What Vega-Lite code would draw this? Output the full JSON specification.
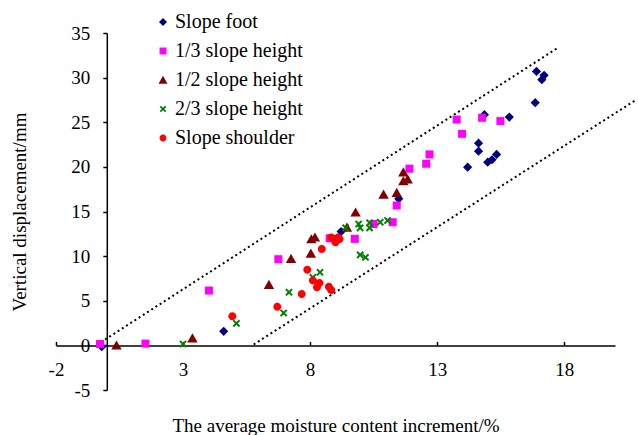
{
  "$schema": "https://vega.github.io/schema/vega-lite/v6.json",
  "autosize": "none",
  "width": 559,
  "height": 357,
  "padding": {"left": 56, "top": 33, "right": 23, "bottom": 45},
  "background": "white",
  "config": {
    "view": {"stroke": null},
    "font": "Liberation Serif",
    "axis": {"labelFont": "Liberation Serif", "titleFont": "Liberation Serif", "labelColor": "black", "titleColor": "black", "domainColor": "black", "tickColor": "black", "grid": false, "labelFontSize": 19, "titleFontSize": 19, "titleFontWeight": "normal", "domainWidth": 1.5, "tickWidth": 1.5},
    "legend": {"labelFont": "Liberation Serif", "labelFontSize": 20, "labelColor": "black"},
    "text": {"font": "Liberation Serif"}
  },
  "datasets": {
    "pts": [
      {"s": "Slope foot", "x": -0.2, "y": -0.15},
      {"s": "Slope foot", "x": 4.6, "y": 1.57},
      {"s": "Slope foot", "x": 9.22, "y": 12.75},
      {"s": "Slope foot", "x": 11.49, "y": 16.42},
      {"s": "Slope foot", "x": 14.2, "y": 19.97},
      {"s": "Slope foot", "x": 14.63, "y": 21.76},
      {"s": "Slope foot", "x": 14.63, "y": 22.66},
      {"s": "Slope foot", "x": 14.99, "y": 20.53},
      {"s": "Slope foot", "x": 15.16, "y": 20.8},
      {"s": "Slope foot", "x": 15.34, "y": 21.4},
      {"s": "Slope foot", "x": 14.86, "y": 25.85},
      {"s": "Slope foot", "x": 15.84, "y": 25.58},
      {"s": "Slope foot", "x": 16.86, "y": 27.19},
      {"s": "Slope foot", "x": 16.91, "y": 30.7},
      {"s": "Slope foot", "x": 17.21, "y": 30.26},
      {"s": "Slope foot", "x": 17.12, "y": 29.77},
      {"s": "1/3 slope height", "x": -0.27, "y": 0.16},
      {"s": "1/3 slope height", "x": 1.52, "y": 0.2},
      {"s": "1/3 slope height", "x": 4.02, "y": 6.14},
      {"s": "1/3 slope height", "x": 6.75, "y": 9.65},
      {"s": "1/3 slope height", "x": 8.77, "y": 12.0},
      {"s": "1/3 slope height", "x": 9.76, "y": 11.93},
      {"s": "1/3 slope height", "x": 10.5, "y": 13.6},
      {"s": "1/3 slope height", "x": 11.25, "y": 13.8},
      {"s": "1/3 slope height", "x": 11.41, "y": 15.67},
      {"s": "1/3 slope height", "x": 11.91, "y": 19.79},
      {"s": "1/3 slope height", "x": 12.57, "y": 20.35},
      {"s": "1/3 slope height", "x": 12.7, "y": 21.4},
      {"s": "1/3 slope height", "x": 13.77, "y": 25.3},
      {"s": "1/3 slope height", "x": 13.98, "y": 23.7},
      {"s": "1/3 slope height", "x": 14.77, "y": 25.5},
      {"s": "1/3 slope height", "x": 15.49, "y": 25.13},
      {"s": "1/2 slope height", "x": 0.38, "y": 0.0},
      {"s": "1/2 slope height", "x": 3.37, "y": 0.8},
      {"s": "1/2 slope height", "x": 6.38, "y": 6.8},
      {"s": "1/2 slope height", "x": 7.25, "y": 9.7},
      {"s": "1/2 slope height", "x": 8.03, "y": 10.3},
      {"s": "1/2 slope height", "x": 8.05, "y": 11.9},
      {"s": "1/2 slope height", "x": 8.19, "y": 12.1},
      {"s": "1/2 slope height", "x": 9.45, "y": 13.2},
      {"s": "1/2 slope height", "x": 9.79, "y": 14.9},
      {"s": "1/2 slope height", "x": 10.89, "y": 16.9},
      {"s": "1/2 slope height", "x": 11.41, "y": 17.1},
      {"s": "1/2 slope height", "x": 11.67, "y": 18.4},
      {"s": "1/2 slope height", "x": 11.84, "y": 18.6},
      {"s": "1/2 slope height", "x": 11.67, "y": 19.4},
      {"s": "2/3 slope height", "x": 3.0, "y": 0.15},
      {"s": "2/3 slope height", "x": 5.1, "y": 2.47},
      {"s": "2/3 slope height", "x": 6.96, "y": 3.63},
      {"s": "2/3 slope height", "x": 7.17, "y": 5.95},
      {"s": "2/3 slope height", "x": 8.11, "y": 7.63},
      {"s": "2/3 slope height", "x": 8.39, "y": 8.19},
      {"s": "2/3 slope height", "x": 9.4, "y": 13.17},
      {"s": "2/3 slope height", "x": 9.91, "y": 13.6},
      {"s": "2/3 slope height", "x": 9.97, "y": 13.17},
      {"s": "2/3 slope height", "x": 9.97, "y": 10.14},
      {"s": "2/3 slope height", "x": 10.18, "y": 9.87},
      {"s": "2/3 slope height", "x": 10.34, "y": 13.73},
      {"s": "2/3 slope height", "x": 10.34, "y": 13.17},
      {"s": "2/3 slope height", "x": 10.76, "y": 13.8},
      {"s": "2/3 slope height", "x": 11.05, "y": 13.99},
      {"s": "Slope shoulder", "x": 4.94, "y": 3.25},
      {"s": "Slope shoulder", "x": 6.71, "y": 4.34},
      {"s": "Slope shoulder", "x": 7.67, "y": 5.76},
      {"s": "Slope shoulder", "x": 7.89, "y": 8.46},
      {"s": "Slope shoulder", "x": 8.11, "y": 7.26},
      {"s": "Slope shoulder", "x": 8.37, "y": 7.0},
      {"s": "Slope shoulder", "x": 8.27, "y": 6.5},
      {"s": "Slope shoulder", "x": 8.74, "y": 6.58},
      {"s": "Slope shoulder", "x": 8.83, "y": 6.2},
      {"s": "Slope shoulder", "x": 8.46, "y": 10.8},
      {"s": "Slope shoulder", "x": 8.83, "y": 12.1},
      {"s": "Slope shoulder", "x": 8.96, "y": 11.93},
      {"s": "Slope shoulder", "x": 9.16, "y": 11.93},
      {"s": "Slope shoulder", "x": 9.0, "y": 11.55},
      {"s": "Slope shoulder", "x": 9.1, "y": 12.1}
    ],
    "lines": [
      {"l": "upper", "x": -0.4, "y": 0.05},
      {"l": "upper", "x": 17.7, "y": 33.25},
      {"l": "lower", "x": 5.78, "y": 0.1},
      {"l": "lower", "x": 20.84, "y": 27.53}
    ]
  },
  "encoding": {
    "x": {"field": "x", "type": "quantitative",
      "scale": {"domain": [-2, 20], "nice": false, "zero": false},
      "axis": {"values": [-2, 3, 8, 13, 18], "offset": -44.6, "tickSize": -4, "labelPadding": 19, "labelOverlap": false, "labelBound": false, "labelFlush": false,
        "labelExpr": "datum.value + ''", "labelFont": "Liberation Serif", "titleFont": "Liberation Serif",
        "title": "The average moisture content increment/%", "titleY": 71, "titleBaseline": "top"}},
    "y": {"field": "y", "type": "quantitative",
      "scale": {"domain": [-5, 35], "nice": false, "zero": false},
      "axis": {"values": [-5, 0, 5, 10, 15, 20, 25, 30, 35], "offset": -50.8, "tickSize": 4, "labelPadding": 13, "labelOverlap": false, "labelBound": false, "labelFlush": false,
        "labelExpr": "datum.value + ''", "labelFont": "Liberation Serif", "titleFont": "Liberation Serif",
        "title": "Vertical displacement/mm", "titleX": -87, "titleY": 178.5, "titleAngle": -90, "titleAlign": "center", "titleBaseline": "middle"}}
  },
  "layer": [
    {
      "data": {"name": "lines"},
      "mark": {"type": "line", "color": "black", "strokeWidth": 2, "strokeDash": [2, 3], "strokeCap": "butt"},
      "encoding": {"detail": {"field": "l"}}
    },
    {
      "data": {"name": "pts"},
      "mark": {"type": "point", "filled": true, "opacity": 1, "size": 64},
      "encoding": {
        "color": {"field": "s", "type": "nominal",
          "scale": {"domain": ["Slope foot", "1/3 slope height", "1/2 slope height", "2/3 slope height", "Slope shoulder"],
            "range": ["#000080", "#FF00FF", "#800000", "#008000", "#FF0000"]},
          "legend": {"orient": "none", "legendX": 97, "legendY": -21, "title": null, "padding": 0, "rowPadding": 9, "labelOffset": 2, "symbolSize": 48, "symbolStrokeWidth": 0, "labelFont": "Liberation Serif", "labelFontSize": 20}},
        "shape": {"field": "s", "type": "nominal",
          "scale": {"domain": ["Slope foot", "1/3 slope height", "1/2 slope height", "2/3 slope height", "Slope shoulder"],
            "range": [
              "M0,-1.15L1.15,0L0,1.15L-1.15,0Z",
              "M-1,-1L1,-1L1,1L-1,1Z",
              "M0,-1.25L1.3,1.05L-1.3,1.05Z",
              "M-0.95,-0.6L-0.6,-0.95L0,-0.35L0.6,-0.95L0.95,-0.6L0.35,0L0.95,0.6L0.6,0.95L0,0.35L-0.6,0.95L-0.95,0.6L-0.35,0Z",
              "M-1,0A1,1,0,1,1,1,0A1,1,0,1,1,-1,0Z"
            ]},
          "legend": {"orient": "none", "legendX": 97, "legendY": -21, "title": null, "padding": 0, "rowPadding": 9, "labelOffset": 2, "symbolSize": 48, "labelFont": "Liberation Serif", "labelFontSize": 20}}
      }
    }
  ]
}
